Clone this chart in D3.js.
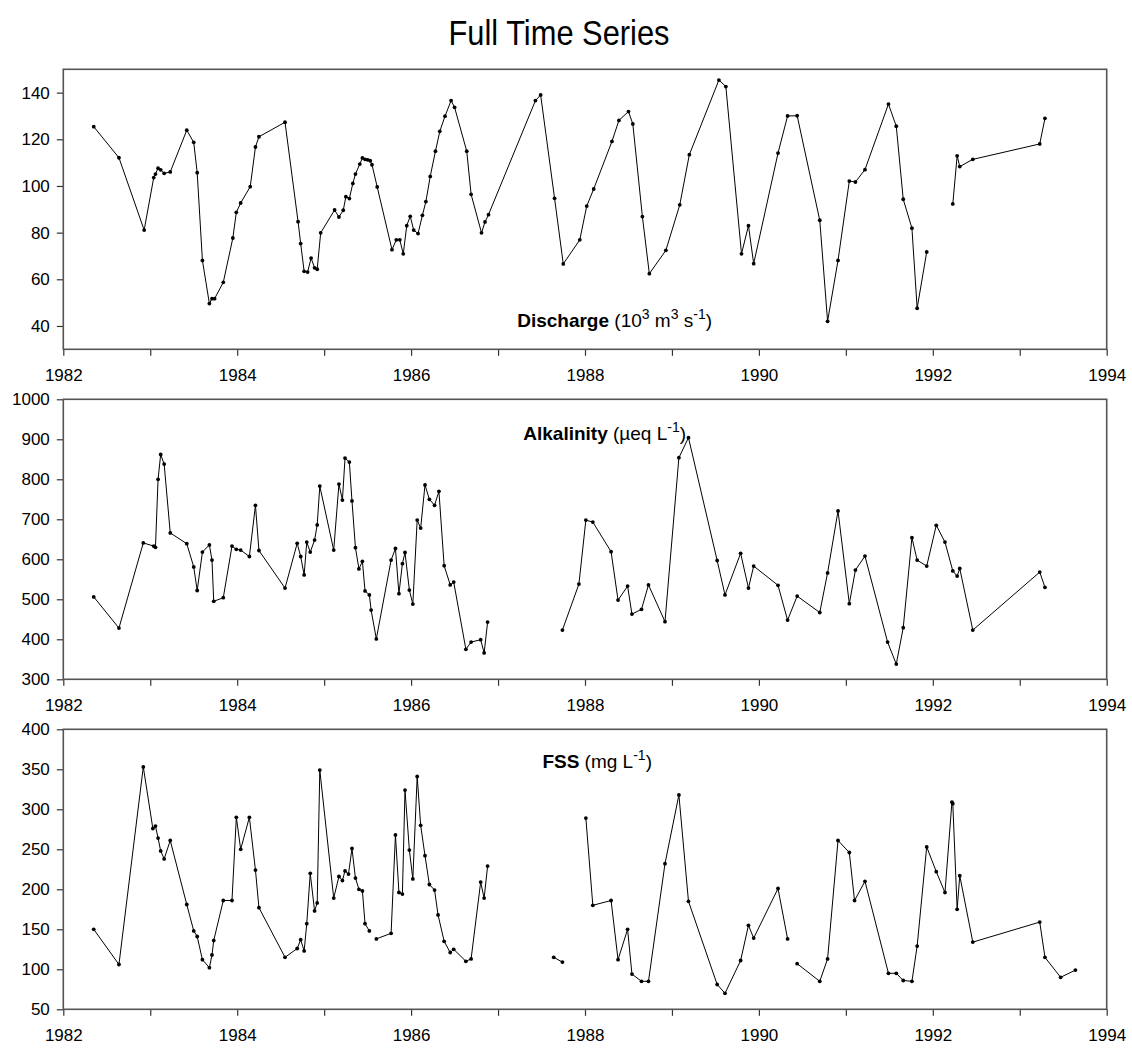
<!DOCTYPE html>
<html lang="en">
<head>
  <meta charset="UTF-8">
  <title>Full Time Series</title>
  <script src="https://d3js.org/d3.v7.min.js"></script>
  <style>
    html, body {
      margin: 0;
      padding: 0;
      background: white;
      font-family: "Liberation Sans", Arial, sans-serif;
    }
    svg { display: block; }
  </style>
</head>
<body>
<svg width="1132" height="1050"></svg>

<script>
// years on the x axis
const yearTicks = d3.range(1982, 1995);

// Discharge (10^3 m3 s-1); null breaks the line
const dischargeYear = [
  1982.35, 1982.64, 1982.93, 1983.04, 1983.06, 1983.09, 1983.12, 1983.16, 1983.23, 1983.42,
  1983.50, 1983.54, 1983.60, 1983.68, 1983.71, 1983.74, 1983.84, 1983.95, 1983.99, 1984.04,
  1984.15, 1984.21, 1984.25, 1984.55, 1984.70, 1984.73, 1984.77, 1984.81, 1984.85, 1984.89,
  1984.92, 1984.96, 1985.12, 1985.17, 1985.22, 1985.25, 1985.29, 1985.33, 1985.36, 1985.41,
  1985.44, 1985.47, 1985.50, 1985.53, 1985.55, 1985.61, 1985.78, 1985.83, 1985.87, 1985.91,
  1985.95, 1985.99, 1986.03, 1986.08, 1986.13, 1986.17, 1986.22, 1986.28, 1986.33, 1986.39,
  1986.46, 1986.50, 1986.64, 1986.69, 1986.81, 1986.85, 1986.89, 1987.43, 1987.49, 1987.65,
  1987.75, 1987.94, 1988.02, 1988.10, 1988.31, 1988.39, 1988.50, 1988.55, 1988.66, 1988.74,
  1988.93, 1989.09, 1989.20, 1989.54, 1989.62, 1989.80, 1989.88, 1989.94, 1990.22, 1990.33,
  1990.44, 1990.70, 1990.79, 1990.91, 1991.04, 1991.11, 1991.22, 1991.49, 1991.58, 1991.66,
  1991.76, 1991.82, 1991.93, 1992.08, 1992.23, 1992.28, 1992.31, 1992.46, 1993.23, 1993.29
];
const dischargeValue = [
  125.4, 112.1, 81.1, 103.6, 105.1, 107.6, 106.9, 105.4, 106.0, 123.9,
  118.7, 105.7, 68.1, 49.6, 51.7, 51.7, 58.7, 77.7, 88.7, 92.7,
  99.7, 116.7, 121.1, 127.3, 84.7, 75.3, 63.4, 63.1, 69.1, 64.9,
  64.3, 79.9, 89.7, 86.7, 89.6, 95.4, 94.6, 101.1, 105.1, 109.4,
  112.0, 111.4, 111.2, 110.8, 109.1, 99.6, 72.7, 76.9, 76.9, 70.9,
  83.0, 87.0, 81.1, 79.6, 87.4, 93.3, 104.1, 114.9, 123.4, 129.9,
  136.6, 133.7, 114.9, 96.4, 79.9, 84.6, 87.7, 136.6, 139.0, 94.7,
  66.6, 76.9, 91.4, 98.7, 119.1, 128.1, 131.9, 126.6, 86.9, 62.4,
  72.4, 91.9, 113.4, 145.4, 142.6, 70.9, 83.0, 66.7, 114.1, 130.0,
  130.1, 85.3, 42.0, 68.1, 102.1, 101.7, 107.0, 135.1, 125.6, 94.3,
  81.9, 47.6, 71.7, null, 92.3, 112.9, 108.3, 111.4, 118.0, 129.0
];

// Alkalinity (ueq L-1)
const alkYear = [
  1982.35, 1982.64, 1982.92, 1983.04, 1983.06, 1983.09, 1983.12, 1983.16, 1983.23, 1983.42,
  1983.50, 1983.54, 1983.60, 1983.68, 1983.71, 1983.73, 1983.84, 1983.94, 1983.99, 1984.04,
  1984.14, 1984.21, 1984.25, 1984.55, 1984.69, 1984.73, 1984.77, 1984.80, 1984.84, 1984.89,
  1984.92, 1984.95, 1985.11, 1985.17, 1985.21, 1985.24, 1985.29, 1985.32, 1985.36, 1985.40,
  1985.44, 1985.47, 1985.52, 1985.54, 1985.60, 1985.77, 1985.82, 1985.86, 1985.90, 1985.93,
  1985.98, 1986.02, 1986.07, 1986.11, 1986.16, 1986.21, 1986.27, 1986.32, 1986.38, 1986.45,
  1986.49, 1986.63, 1986.69, 1986.80, 1986.84, 1986.88, 1987.30, 1987.74, 1987.93, 1988.01,
  1988.09, 1988.30, 1988.38, 1988.49, 1988.54, 1988.65, 1988.73, 1988.92, 1989.08, 1989.19,
  1989.52, 1989.61, 1989.79, 1989.88, 1989.94, 1990.22, 1990.33, 1990.44, 1990.70, 1990.79,
  1990.91, 1991.04, 1991.11, 1991.22, 1991.48, 1991.58, 1991.66, 1991.76, 1991.82, 1991.93,
  1992.04, 1992.14, 1992.23, 1992.28, 1992.31, 1992.46, 1993.23, 1993.29
];
const alkValue = [
  506, 428, 641, 633, 630, 800, 862, 838, 666, 639,
  581, 522, 618, 636, 598, 495, 504, 633, 625, 623,
  607, 735, 622, 528, 640, 607, 561, 643, 618, 648,
  686, 783, 623, 788, 748, 853, 843, 746, 629, 576,
  595, 521, 511, 473, 401, 598, 627, 514, 589, 617,
  523, 488, 698, 678, 786, 750, 735, 770, 584, 536,
  543, 375, 393, 399, 366, 443, null, 423, 538, 698,
  693, 619, 498, 533, 463, 475, 536, 444, 854, 904,
  597, 511, 615, 528, 583, 535, 448, 508, 467, 566,
  721, 489, 573, 608, 393, 338, 429, 654, 598, 583,
  685, 643, 571, 558, 577, 423, 568, 530
];

// FSS (mg L-1)
const fssYear = [
  1982.35, 1982.64, 1982.92, 1983.03, 1983.06, 1983.09, 1983.12, 1983.16, 1983.23, 1983.42,
  1983.50, 1983.54, 1983.60, 1983.68, 1983.71, 1983.73, 1983.84, 1983.94, 1983.99, 1984.04,
  1984.14, 1984.21, 1984.25, 1984.55, 1984.69, 1984.73, 1984.77, 1984.80, 1984.84, 1984.89,
  1984.92, 1984.95, 1985.11, 1985.17, 1985.21, 1985.24, 1985.28, 1985.32, 1985.36, 1985.40,
  1985.44, 1985.47, 1985.52, 1985.56, 1985.60, 1985.77, 1985.82, 1985.86, 1985.90, 1985.93,
  1985.98, 1986.02, 1986.07, 1986.11, 1986.16, 1986.21, 1986.27, 1986.31, 1986.38, 1986.45,
  1986.49, 1986.63, 1986.69, 1986.80, 1986.84, 1986.88, 1987.30, 1987.64, 1987.74, 1987.90,
  1988.01, 1988.09, 1988.30, 1988.38, 1988.49, 1988.54, 1988.65, 1988.73, 1988.92, 1989.08,
  1989.19, 1989.52, 1989.61, 1989.79, 1989.88, 1989.94, 1990.22, 1990.33, 1990.38, 1990.44,
  1990.70, 1990.79, 1990.91, 1991.04, 1991.10, 1991.22, 1991.49, 1991.58, 1991.66, 1991.76,
  1991.82, 1991.93, 1992.04, 1992.14, 1992.22, 1992.23, 1992.28, 1992.31, 1992.46, 1993.23,
  1993.29, 1993.47, 1993.64
];
const fssValue = [
  150, 106, 353, 276, 279, 264, 248, 238, 261, 181,
  148, 141, 112, 102, 118, 136, 186, 186, 290, 250,
  290, 224, 177, 115, 126, 137, 123, 157, 220, 173,
  183, 349, 189, 216, 211, 223, 219, 251, 214, 200,
  198, 157, 148, null, 138, 145, 268, 196, 194, 324,
  249, 213, 341, 280, 242, 206, 199, 168, 135, 121,
  125, 110, 113, 209, 189, 229, null, 115, 109, null,
  289, 180, 186, 112, 150, 94, 85, 85, 232, 318,
  185, 81, 70, 111, 155, 139, 201, 138, null, 107,
  85, 113, 261, 246, 186, 210, 95, 95, 86, 85,
  129, 253, 222, 196, 309, 307, 175, 217, 134, 159,
  115, 90, 99
];

const svg = d3.select("svg");
const W = 1132;
const left = 63.3, right = 1106.7;
const panelH = 280;
const fontFam = "'Liberation Sans', Arial, sans-serif";

svg.append("rect").attr("width", W).attr("height", 1050).attr("fill", "white");

svg.append("text")
  .attr("x", 559).attr("y", 45)
  .attr("text-anchor", "middle")
  .attr("font-family", fontFam)
  .attr("font-size", 35)
  .attr("textLength", 221)
  .attr("lengthAdjust", "spacingAndGlyphs")
  .text("Full Time Series");

const x = d3.scaleLinear().domain([1982, 1994]).range([left, right]);

const panels = [
  {
    top: 69.3, domain: [30, 150], ticks: d3.range(40, 141, 20),
    years: dischargeYear, values: dischargeValue,
    label: [
      { t: "Discharge", b: true }, { t: " (10" }, { t: "3", s: true }, { t: " m" },
      { t: "3", s: true }, { t: " s" }, { t: "-1", s: true }, { t: ")" }
    ],
    labelYear: 1987.22, labelValue: 39.5
  },
  {
    top: 399.3, domain: [300, 1000], ticks: d3.range(300, 1001, 100),
    years: alkYear, values: alkValue,
    label: [
      { t: "Alkalinity", b: true }, { t: " (\u00b5eq L" }, { t: "-1", s: true }, { t: ")" }
    ],
    labelYear: 1987.29, labelValue: 898
  },
  {
    top: 729.3, domain: [50, 400], ticks: d3.range(50, 401, 50),
    years: fssYear, values: fssValue,
    label: [
      { t: "FSS", b: true }, { t: " (mg L" }, { t: "-1", s: true }, { t: ")" }
    ],
    labelYear: 1987.51, labelValue: 351.6
  }
];

panels.forEach(p => {
  const y = d3.scaleLinear().domain(p.domain).range([p.top + panelH, p.top]);
  const g = svg.append("g");

  // y axis
  const ya = g.append("g")
    .attr("transform", `translate(${left},0)`)
    .call(d3.axisLeft(y).tickValues(p.ticks).tickFormat(d3.format("d"))
      .tickSize(6.5).tickSizeOuter(0).tickPadding(7));
  ya.select(".domain").remove();
  ya.selectAll("line").attr("stroke", "#333").attr("stroke-width", 1.2);
  ya.selectAll("text").attr("font-family", fontFam).attr("font-size", 17).attr("fill", "#000");

  // x axis
  const xa = g.append("g")
    .attr("transform", `translate(0,${p.top + panelH})`)
    .call(d3.axisBottom(x).tickValues(yearTicks).tickSize(6.5).tickSizeOuter(0).tickPadding(13)
      .tickFormat(d => d % 2 === 0 ? d : ""));
  xa.select(".domain").remove();
  xa.selectAll("line").attr("stroke", "#333").attr("stroke-width", 1.2);
  xa.selectAll("text").attr("font-family", fontFam).attr("font-size", 17).attr("fill", "#000");

  // frame
  g.append("rect")
    .attr("x", left).attr("y", p.top)
    .attr("width", right - left).attr("height", panelH)
    .attr("fill", "none").attr("stroke", "#555").attr("stroke-width", 1.6);

  const pts = p.years.map((yr, i) => [yr, p.values[i]]);

  const line = d3.line()
    .defined(d => d[1] != null)
    .x(d => x(d[0]))
    .y(d => y(d[1]));

  g.append("path")
    .datum(pts)
    .attr("d", line)
    .attr("fill", "none")
    .attr("stroke", "#000")
    .attr("stroke-width", 1);

  g.append("g")
    .selectAll("circle")
    .data(pts.filter(d => d[1] != null))
    .join("circle")
    .attr("cx", d => x(d[0]))
    .attr("cy", d => y(d[1]))
    .attr("r", 1.9)
    .attr("fill", "#000");

  // panel label
  const txt = g.append("text")
    .attr("x", x(p.labelYear))
    .attr("y", y(p.labelValue))
    .attr("font-family", fontFam)
    .attr("font-size", 19);
  let shifted = false;
  p.label.forEach(part => {
    const ts = txt.append("tspan").text(part.t);
    if (part.b) ts.attr("font-weight", "bold");
    if (part.s) {
      ts.attr("font-size", 14).attr("dy", shifted ? 0 : -8);
      shifted = true;
    } else if (shifted) {
      ts.attr("dy", 8);
      shifted = false;
    }
  });
});
</script>
</body>
</html>
